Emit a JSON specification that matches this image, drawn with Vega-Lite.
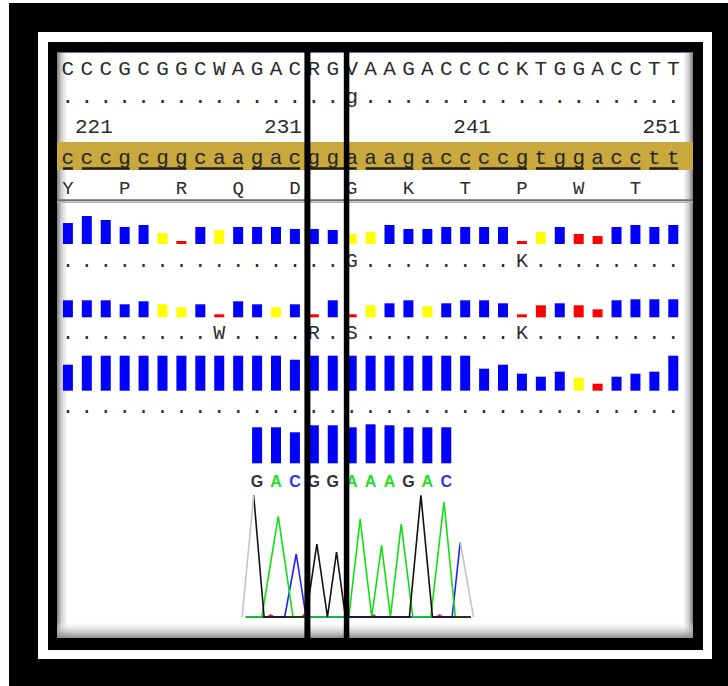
{
  "$schema": "https://vega.github.io/schema/vega-lite/v6.json",
  "width": 636,
  "height": 586,
  "autosize": {"type": "none"},
  "padding": {"left": 57, "top": 52, "right": 35, "bottom": 48},
  "background": "#ffffff",
  "config": {"view": {"stroke": null}},
  "datasets": {
    "bases": [
      {"pos": 219, "cons": "C", "ref": "c", "refmark": "."},
      {"pos": 220, "cons": "C", "ref": "c", "refmark": "."},
      {"pos": 221, "cons": "C", "ref": "c", "refmark": "."},
      {"pos": 222, "cons": "G", "ref": "g", "refmark": "."},
      {"pos": 223, "cons": "C", "ref": "c", "refmark": "."},
      {"pos": 224, "cons": "G", "ref": "g", "refmark": "."},
      {"pos": 225, "cons": "G", "ref": "g", "refmark": "."},
      {"pos": 226, "cons": "C", "ref": "c", "refmark": "."},
      {"pos": 227, "cons": "W", "ref": "a", "refmark": "."},
      {"pos": 228, "cons": "A", "ref": "a", "refmark": "."},
      {"pos": 229, "cons": "G", "ref": "g", "refmark": "."},
      {"pos": 230, "cons": "A", "ref": "a", "refmark": "."},
      {"pos": 231, "cons": "C", "ref": "c", "refmark": "."},
      {"pos": 232, "cons": "R", "ref": "g", "refmark": "."},
      {"pos": 233, "cons": "G", "ref": "g", "refmark": "."},
      {"pos": 234, "cons": "V", "ref": "a", "refmark": "g"},
      {"pos": 235, "cons": "A", "ref": "a", "refmark": "."},
      {"pos": 236, "cons": "A", "ref": "a", "refmark": "."},
      {"pos": 237, "cons": "G", "ref": "g", "refmark": "."},
      {"pos": 238, "cons": "A", "ref": "a", "refmark": "."},
      {"pos": 239, "cons": "C", "ref": "c", "refmark": "."},
      {"pos": 240, "cons": "C", "ref": "c", "refmark": "."},
      {"pos": 241, "cons": "C", "ref": "c", "refmark": "."},
      {"pos": 242, "cons": "C", "ref": "c", "refmark": "."},
      {"pos": 243, "cons": "K", "ref": "g", "refmark": "."},
      {"pos": 244, "cons": "T", "ref": "t", "refmark": "."},
      {"pos": 245, "cons": "G", "ref": "g", "refmark": "."},
      {"pos": 246, "cons": "G", "ref": "g", "refmark": "."},
      {"pos": 247, "cons": "A", "ref": "a", "refmark": "."},
      {"pos": 248, "cons": "C", "ref": "c", "refmark": "."},
      {"pos": 249, "cons": "C", "ref": "c", "refmark": "."},
      {"pos": 250, "cons": "T", "ref": "t", "refmark": "."},
      {"pos": 251, "cons": "T", "ref": "t", "refmark": "."}
    ],
    "ruler": [{"pos": 221}, {"pos": 231}, {"pos": 241}, {"pos": 251}],
    "codons": [
      {"start": 219, "end": 219, "aa": "Y"},
      {"start": 220, "end": 222, "aa": "P"},
      {"start": 223, "end": 225, "aa": "R"},
      {"start": 226, "end": 228, "aa": "Q"},
      {"start": 229, "end": 231, "aa": "D"},
      {"start": 232, "end": 234, "aa": "G"},
      {"start": 235, "end": 237, "aa": "K"},
      {"start": 238, "end": 240, "aa": "T"},
      {"start": 241, "end": 243, "aa": "P"},
      {"start": 244, "end": 246, "aa": "W"},
      {"start": 247, "end": 249, "aa": "T"},
      {"start": 250, "end": 251, "aa": ""}
    ],
    "reads": [
      {"read": 1, "pos": 219, "q": 21, "qc": "hi", "mark": "."},
      {"read": 1, "pos": 220, "q": 28, "qc": "hi", "mark": "."},
      {"read": 1, "pos": 221, "q": 24, "qc": "hi", "mark": "."},
      {"read": 1, "pos": 222, "q": 17, "qc": "hi", "mark": "."},
      {"read": 1, "pos": 223, "q": 19, "qc": "hi", "mark": "."},
      {"read": 1, "pos": 224, "q": 11, "qc": "mid", "mark": "."},
      {"read": 1, "pos": 225, "q": 3, "qc": "lo", "mark": "."},
      {"read": 1, "pos": 226, "q": 17, "qc": "hi", "mark": "."},
      {"read": 1, "pos": 227, "q": 14, "qc": "mid", "mark": "."},
      {"read": 1, "pos": 228, "q": 17, "qc": "hi", "mark": "."},
      {"read": 1, "pos": 229, "q": 17, "qc": "hi", "mark": "."},
      {"read": 1, "pos": 230, "q": 17, "qc": "hi", "mark": "."},
      {"read": 1, "pos": 231, "q": 15, "qc": "hi", "mark": "."},
      {"read": 1, "pos": 232, "q": 15, "qc": "hi", "mark": "."},
      {"read": 1, "pos": 233, "q": 14, "qc": "hi", "mark": "."},
      {"read": 1, "pos": 234, "q": 10, "qc": "mid", "mark": "G"},
      {"read": 1, "pos": 235, "q": 12, "qc": "mid", "mark": "."},
      {"read": 1, "pos": 236, "q": 19, "qc": "hi", "mark": "."},
      {"read": 1, "pos": 237, "q": 15, "qc": "hi", "mark": "."},
      {"read": 1, "pos": 238, "q": 15, "qc": "hi", "mark": "."},
      {"read": 1, "pos": 239, "q": 17, "qc": "hi", "mark": "."},
      {"read": 1, "pos": 240, "q": 17, "qc": "hi", "mark": "."},
      {"read": 1, "pos": 241, "q": 17, "qc": "hi", "mark": "."},
      {"read": 1, "pos": 242, "q": 17, "qc": "hi", "mark": "."},
      {"read": 1, "pos": 243, "q": 3, "qc": "lo", "mark": "K"},
      {"read": 1, "pos": 244, "q": 12, "qc": "mid", "mark": "."},
      {"read": 1, "pos": 245, "q": 17, "qc": "hi", "mark": "."},
      {"read": 1, "pos": 246, "q": 10, "qc": "lo", "mark": "."},
      {"read": 1, "pos": 247, "q": 8, "qc": "lo", "mark": "."},
      {"read": 1, "pos": 248, "q": 17, "qc": "hi", "mark": "."},
      {"read": 1, "pos": 249, "q": 19, "qc": "hi", "mark": "."},
      {"read": 1, "pos": 250, "q": 17, "qc": "hi", "mark": "."},
      {"read": 1, "pos": 251, "q": 19, "qc": "hi", "mark": "."},
      {"read": 2, "pos": 219, "q": 17, "qc": "hi", "mark": "."},
      {"read": 2, "pos": 220, "q": 17, "qc": "hi", "mark": "."},
      {"read": 2, "pos": 221, "q": 17, "qc": "hi", "mark": "."},
      {"read": 2, "pos": 222, "q": 13, "qc": "hi", "mark": "."},
      {"read": 2, "pos": 223, "q": 16, "qc": "hi", "mark": "."},
      {"read": 2, "pos": 224, "q": 13, "qc": "mid", "mark": "."},
      {"read": 2, "pos": 225, "q": 10, "qc": "mid", "mark": "."},
      {"read": 2, "pos": 226, "q": 13, "qc": "hi", "mark": "."},
      {"read": 2, "pos": 227, "q": 3, "qc": "lo", "mark": "W"},
      {"read": 2, "pos": 228, "q": 16, "qc": "hi", "mark": "."},
      {"read": 2, "pos": 229, "q": 13, "qc": "hi", "mark": "."},
      {"read": 2, "pos": 230, "q": 10, "qc": "mid", "mark": "."},
      {"read": 2, "pos": 231, "q": 13, "qc": "hi", "mark": "."},
      {"read": 2, "pos": 232, "q": 3, "qc": "lo", "mark": "R"},
      {"read": 2, "pos": 233, "q": 17, "qc": "hi", "mark": "."},
      {"read": 2, "pos": 234, "q": 3, "qc": "lo", "mark": "S"},
      {"read": 2, "pos": 235, "q": 12, "qc": "mid", "mark": "."},
      {"read": 2, "pos": 236, "q": 14, "qc": "hi", "mark": "."},
      {"read": 2, "pos": 237, "q": 17, "qc": "hi", "mark": "."},
      {"read": 2, "pos": 238, "q": 11, "qc": "mid", "mark": "."},
      {"read": 2, "pos": 239, "q": 14, "qc": "hi", "mark": "."},
      {"read": 2, "pos": 240, "q": 17, "qc": "hi", "mark": "."},
      {"read": 2, "pos": 241, "q": 17, "qc": "hi", "mark": "."},
      {"read": 2, "pos": 242, "q": 14, "qc": "hi", "mark": "."},
      {"read": 2, "pos": 243, "q": 3, "qc": "lo", "mark": "K"},
      {"read": 2, "pos": 244, "q": 12, "qc": "lo", "mark": "."},
      {"read": 2, "pos": 245, "q": 14, "qc": "hi", "mark": "."},
      {"read": 2, "pos": 246, "q": 12, "qc": "lo", "mark": "."},
      {"read": 2, "pos": 247, "q": 8, "qc": "lo", "mark": "."},
      {"read": 2, "pos": 248, "q": 17, "qc": "hi", "mark": "."},
      {"read": 2, "pos": 249, "q": 18, "qc": "hi", "mark": "."},
      {"read": 2, "pos": 250, "q": 18, "qc": "hi", "mark": "."},
      {"read": 2, "pos": 251, "q": 18, "qc": "hi", "mark": "."},
      {"read": 3, "pos": 219, "q": 26, "qc": "hi", "mark": "."},
      {"read": 3, "pos": 220, "q": 35, "qc": "hi", "mark": "."},
      {"read": 3, "pos": 221, "q": 35, "qc": "hi", "mark": "."},
      {"read": 3, "pos": 222, "q": 35, "qc": "hi", "mark": "."},
      {"read": 3, "pos": 223, "q": 35, "qc": "hi", "mark": "."},
      {"read": 3, "pos": 224, "q": 35, "qc": "hi", "mark": "."},
      {"read": 3, "pos": 225, "q": 35, "qc": "hi", "mark": "."},
      {"read": 3, "pos": 226, "q": 35, "qc": "hi", "mark": "."},
      {"read": 3, "pos": 227, "q": 35, "qc": "hi", "mark": "."},
      {"read": 3, "pos": 228, "q": 35, "qc": "hi", "mark": "."},
      {"read": 3, "pos": 229, "q": 35, "qc": "hi", "mark": "."},
      {"read": 3, "pos": 230, "q": 35, "qc": "hi", "mark": "."},
      {"read": 3, "pos": 231, "q": 31, "qc": "hi", "mark": "."},
      {"read": 3, "pos": 232, "q": 35, "qc": "hi", "mark": "."},
      {"read": 3, "pos": 233, "q": 35, "qc": "hi", "mark": "."},
      {"read": 3, "pos": 234, "q": 35, "qc": "hi", "mark": "."},
      {"read": 3, "pos": 235, "q": 35, "qc": "hi", "mark": "."},
      {"read": 3, "pos": 236, "q": 35, "qc": "hi", "mark": "."},
      {"read": 3, "pos": 237, "q": 35, "qc": "hi", "mark": "."},
      {"read": 3, "pos": 238, "q": 35, "qc": "hi", "mark": "."},
      {"read": 3, "pos": 239, "q": 35, "qc": "hi", "mark": "."},
      {"read": 3, "pos": 240, "q": 35, "qc": "hi", "mark": "."},
      {"read": 3, "pos": 241, "q": 22, "qc": "hi", "mark": "."},
      {"read": 3, "pos": 242, "q": 26, "qc": "hi", "mark": "."},
      {"read": 3, "pos": 243, "q": 17, "qc": "hi", "mark": "."},
      {"read": 3, "pos": 244, "q": 14, "qc": "hi", "mark": "."},
      {"read": 3, "pos": 245, "q": 19, "qc": "hi", "mark": "."},
      {"read": 3, "pos": 246, "q": 13, "qc": "mid", "mark": "."},
      {"read": 3, "pos": 247, "q": 7, "qc": "lo", "mark": "."},
      {"read": 3, "pos": 248, "q": 14, "qc": "hi", "mark": "."},
      {"read": 3, "pos": 249, "q": 17, "qc": "hi", "mark": "."},
      {"read": 3, "pos": 250, "q": 19, "qc": "hi", "mark": "."},
      {"read": 3, "pos": 251, "q": 35, "qc": "hi", "mark": "."}
    ],
    "calls": [
      {"pos": 229, "base": "G", "q": 36},
      {"pos": 230, "base": "A", "q": 36},
      {"pos": 231, "base": "C", "q": 31},
      {"pos": 232, "base": "G", "q": 38},
      {"pos": 233, "base": "G", "q": 38},
      {"pos": 234, "base": "A", "q": 36},
      {"pos": 235, "base": "A", "q": 39},
      {"pos": 236, "base": "A", "q": 38},
      {"pos": 237, "base": "G", "q": 36},
      {"pos": 238, "base": "A", "q": 36},
      {"pos": 239, "base": "C", "q": 36}
    ],
    "trace": [
      {"ch": "T", "pos": 228.40, "signal": 0},
      {"ch": "T", "pos": 229.55, "signal": 0},
      {"ch": "T", "pos": 229.72, "signal": 2},
      {"ch": "T", "pos": 229.90, "signal": 0},
      {"ch": "T", "pos": 231.35, "signal": 0},
      {"ch": "T", "pos": 231.50, "signal": 2.5},
      {"ch": "T", "pos": 231.65, "signal": 0},
      {"ch": "T", "pos": 235.00, "signal": 0},
      {"ch": "T", "pos": 235.15, "signal": 2},
      {"ch": "T", "pos": 235.30, "signal": 0},
      {"ch": "T", "pos": 238.50, "signal": 0},
      {"ch": "T", "pos": 238.65, "signal": 2},
      {"ch": "T", "pos": 238.80, "signal": 0},
      {"ch": "T", "pos": 240.30, "signal": 0},
      {"ch": "C", "pos": 228.40, "signal": 0},
      {"ch": "C", "pos": 230.46, "signal": 0},
      {"ch": "C", "pos": 231.07, "signal": 63},
      {"ch": "C", "pos": 231.59, "signal": 0},
      {"ch": "C", "pos": 239.31, "signal": 0},
      {"ch": "C", "pos": 239.74, "signal": 75},
      {"ch": "A", "pos": 228.40, "signal": 0},
      {"ch": "A", "pos": 229.25, "signal": 0},
      {"ch": "A", "pos": 230.12, "signal": 100.7},
      {"ch": "A", "pos": 230.90, "signal": 0},
      {"ch": "A", "pos": 233.85, "signal": 0},
      {"ch": "A", "pos": 234.45, "signal": 98},
      {"ch": "A", "pos": 235.06, "signal": 0},
      {"ch": "A", "pos": 235.58, "signal": 71.7},
      {"ch": "A", "pos": 236.05, "signal": 0},
      {"ch": "A", "pos": 236.62, "signal": 93},
      {"ch": "A", "pos": 237.23, "signal": 0},
      {"ch": "A", "pos": 238.18, "signal": 0},
      {"ch": "A", "pos": 238.88, "signal": 115},
      {"ch": "A", "pos": 239.48, "signal": 0},
      {"ch": "A", "pos": 240.30, "signal": 0},
      {"ch": "G", "pos": 228.82, "signal": 121.7},
      {"ch": "G", "pos": 229.37, "signal": 0},
      {"ch": "G", "pos": 231.59, "signal": 0},
      {"ch": "G", "pos": 232.16, "signal": 73},
      {"ch": "G", "pos": 232.72, "signal": 0},
      {"ch": "G", "pos": 233.20, "signal": 65},
      {"ch": "G", "pos": 233.67, "signal": 0},
      {"ch": "G", "pos": 237.05, "signal": 0},
      {"ch": "G", "pos": 237.66, "signal": 121.7},
      {"ch": "G", "pos": 238.27, "signal": 0},
      {"ch": "G", "pos": 240.30, "signal": 0}
    ],
    "trimmed": [
      {"seg": "left", "pos": 228.21, "signal": 0},
      {"seg": "left", "pos": 228.82, "signal": 121.7},
      {"seg": "right", "pos": 239.74, "signal": 75},
      {"seg": "right", "pos": 240.44, "signal": 0}
    ],
    "selection": [{"from": 231.66, "to": 233.73}]
  },
  "resolve": {"scale": {"y": "independent", "color": "independent"}},
  "layer": [
    {
      "description": "outer black surround",
      "data": {"values": [{}]},
      "mark": {"type": "rect", "color": "#000000"},
      "encoding": {"x": {"value": -48}, "x2": {"value": 671}, "y": {"value": -49}, "y2": {"value": 634}}
    },
    {
      "description": "white frame",
      "data": {"values": [{}]},
      "mark": {"type": "rect", "color": "#ffffff"},
      "encoding": {"x": {"value": -19}, "x2": {"value": 655}, "y": {"value": -20}, "y2": {"value": 607}}
    },
    {
      "description": "inner black frame",
      "data": {"values": [{}]},
      "mark": {"type": "rect", "color": "#000000"},
      "encoding": {"x": {"value": -9}, "x2": {"value": 646}, "y": {"value": -10}, "y2": {"value": 598}}
    },
    {
      "description": "panel with shaded side edges",
      "data": {"values": [{}]},
      "mark": {
        "type": "rect",
        "fill": {
          "gradient": "linear", "x1": 0, "y1": 0, "x2": 1, "y2": 0,
          "stops": [
            {"offset": 0, "color": "#7c7c7c"},
            {"offset": 0.007, "color": "#cfcfcf"},
            {"offset": 0.016, "color": "#ffffff"},
            {"offset": 0.985, "color": "#ffffff"},
            {"offset": 0.993, "color": "#cfcfcf"},
            {"offset": 1, "color": "#7c7c7c"}
          ]
        }
      },
      "encoding": {"x": {"value": 0}, "x2": {"value": 636}, "y": {"value": 0}, "y2": {"value": 586}}
    },
    {
      "description": "panel bottom shading",
      "data": {"values": [{}]},
      "mark": {
        "type": "rect",
        "fill": {
          "gradient": "linear", "x1": 0, "y1": 0, "x2": 0, "y2": 1,
          "stops": [
            {"offset": 0, "color": "rgba(255,255,255,0)"},
            {"offset": 0.5, "color": "rgba(200,200,200,0.6)"},
            {"offset": 1, "color": "#8a8a8a"}
          ]
        }
      },
      "encoding": {"x": {"value": 0}, "x2": {"value": 636}, "y": {"value": 569}, "y2": {"value": 586}}
    },
    {
      "description": "panel top edge",
      "data": {"values": [{}]},
      "mark": {"type": "rule", "color": "#6a6aac", "strokeWidth": 1},
      "encoding": {"x": {"value": 0}, "x2": {"value": 636}, "y": {"value": 0.5}}
    },
    {
      "description": "reference track band",
      "data": {"values": [{}]},
      "mark": {"type": "rect", "color": "#c9a93d"},
      "encoding": {"x": {"value": 0}, "x2": {"value": 636}, "y": {"value": 90}, "y2": {"value": 118}}
    },
    {
      "description": "separator under the translation",
      "data": {"values": [{}]},
      "mark": {"type": "rule", "color": "#6e6e6e", "strokeWidth": 2},
      "encoding": {"x": {"value": 0}, "x2": {"value": 636}, "y": {"value": 148.3}}
    },
    {
      "data": {"values": [{}]},
      "mark": {"type": "rule", "color": "#b4b4b4", "strokeWidth": 1.5},
      "encoding": {"x": {"value": 0}, "x2": {"value": 636}, "y": {"value": 150.3}}
    },
    {
      "description": "consensus sequence",
      "data": {"name": "bases"},
      "mark": {"type": "text", "font": "Liberation Mono", "fontSize": 21, "baseline": "alphabetic", "align": "center", "color": "#2b2b2b"},
      "encoding": {
        "x": {"field": "pos", "type": "quantitative", "scale": {"domain": [218.688, 251.778], "nice": false, "zero": false}, "axis": null},
        "y": {"datum": "consensus", "type": "nominal", "scale": {"range": [23, 23]}, "axis": null},
        "text": {"field": "cons"}
      }
    },
    {
      "description": "reference agreement marks",
      "data": {"name": "bases"},
      "mark": {"type": "text", "font": "Liberation Mono", "fontSize": 21, "baseline": "alphabetic", "align": "center", "color": "#2b2b2b"},
      "encoding": {
        "x": {"field": "pos", "type": "quantitative", "scale": {"domain": [218.688, 251.778], "nice": false, "zero": false}, "axis": null},
        "y": {"datum": "agreement", "type": "nominal", "scale": {"range": [51, 51]}, "axis": null},
        "text": {"field": "refmark"}
      }
    },
    {
      "description": "position ruler",
      "data": {"name": "ruler"},
      "mark": {"type": "text", "font": "Liberation Mono", "fontSize": 21, "baseline": "alphabetic", "align": "right", "dx": 7, "color": "#2b2b2b"},
      "encoding": {
        "x": {"field": "pos", "type": "quantitative", "scale": {"domain": [218.688, 251.778], "nice": false, "zero": false}, "axis": null},
        "y": {"datum": "ruler", "type": "nominal", "scale": {"range": [81, 81]}, "axis": null},
        "text": {"field": "pos", "type": "quantitative", "format": "d"}
      }
    },
    {
      "description": "reference sequence",
      "data": {"name": "bases"},
      "mark": {"type": "text", "font": "Liberation Mono", "fontSize": 21, "baseline": "alphabetic", "align": "center", "color": "#262626"},
      "encoding": {
        "x": {"field": "pos", "type": "quantitative", "scale": {"domain": [218.688, 251.778], "nice": false, "zero": false}, "axis": null},
        "y": {"datum": "reference", "type": "nominal", "scale": {"range": [112, 112]}, "axis": null},
        "text": {"field": "ref"}
      }
    },
    {
      "description": "codon underlines",
      "data": {"name": "codons"},
      "mark": {"type": "rule", "color": "#1c1c1c", "strokeWidth": 2.5, "xOffset": -5, "x2Offset": 5},
      "encoding": {
        "x": {"field": "start", "type": "quantitative", "scale": {"domain": [218.688, 251.778], "nice": false, "zero": false}, "axis": null},
        "x2": {"field": "end"},
        "y": {"datum": "codon", "type": "nominal", "scale": {"range": [116.5, 116.5]}, "axis": null}
      }
    },
    {
      "description": "translation",
      "data": {"name": "codons"},
      "mark": {"type": "text", "font": "Liberation Mono", "fontSize": 19, "baseline": "alphabetic", "align": "center", "color": "#2b2b2b"},
      "encoding": {
        "x": {"field": "end", "type": "quantitative", "scale": {"domain": [218.688, 251.778], "nice": false, "zero": false}, "axis": null},
        "y": {"datum": "protein", "type": "nominal", "scale": {"range": [142, 142]}, "axis": null},
        "text": {"field": "aa"}
      }
    },
    {
      "description": "read 1 quality",
      "data": {"name": "reads"},
      "transform": [{"filter": "datum.read == 1"}],
      "mark": {"type": "bar", "size": 10},
      "encoding": {
        "x": {"field": "pos", "type": "quantitative", "scale": {"domain": [218.688, 251.778], "nice": false, "zero": false}, "axis": null},
        "y": {"field": "q", "type": "quantitative", "stack": null, "scale": {"domain": [0, 40], "range": [192, 152], "nice": false}, "axis": null},
        "color": {"field": "qc", "type": "nominal", "scale": {"domain": ["hi", "mid", "lo"], "range": ["#0000ff", "#ffff00", "#ff0000"]}, "legend": null}
      }
    },
    {
      "description": "read 1 calls",
      "data": {"name": "reads"},
      "transform": [{"filter": "datum.read == 1"}],
      "mark": {"type": "text", "font": "Liberation Mono", "fontSize": 20, "baseline": "alphabetic", "align": "center", "color": "#2b2b2b"},
      "encoding": {
        "x": {"field": "pos", "type": "quantitative", "scale": {"domain": [218.688, 251.778], "nice": false, "zero": false}, "axis": null},
        "y": {"datum": "read 1", "type": "nominal", "scale": {"range": [215, 215]}, "axis": null},
        "text": {"field": "mark"}
      }
    },
    {
      "description": "read 2 quality",
      "data": {"name": "reads"},
      "transform": [{"filter": "datum.read == 2"}],
      "mark": {"type": "bar", "size": 10},
      "encoding": {
        "x": {"field": "pos", "type": "quantitative", "scale": {"domain": [218.688, 251.778], "nice": false, "zero": false}, "axis": null},
        "y": {"field": "q", "type": "quantitative", "stack": null, "scale": {"domain": [0, 40], "range": [265.3, 225.3], "nice": false}, "axis": null},
        "color": {"field": "qc", "type": "nominal", "scale": {"domain": ["hi", "mid", "lo"], "range": ["#0000ff", "#ffff00", "#ff0000"]}, "legend": null}
      }
    },
    {
      "description": "read 2 calls",
      "data": {"name": "reads"},
      "transform": [{"filter": "datum.read == 2"}],
      "mark": {"type": "text", "font": "Liberation Mono", "fontSize": 20, "baseline": "alphabetic", "align": "center", "color": "#2b2b2b"},
      "encoding": {
        "x": {"field": "pos", "type": "quantitative", "scale": {"domain": [218.688, 251.778], "nice": false, "zero": false}, "axis": null},
        "y": {"datum": "read 2", "type": "nominal", "scale": {"range": [287, 287]}, "axis": null},
        "text": {"field": "mark"}
      }
    },
    {
      "description": "read 3 quality",
      "data": {"name": "reads"},
      "transform": [{"filter": "datum.read == 3"}],
      "mark": {"type": "bar", "size": 10},
      "encoding": {
        "x": {"field": "pos", "type": "quantitative", "scale": {"domain": [218.688, 251.778], "nice": false, "zero": false}, "axis": null},
        "y": {"field": "q", "type": "quantitative", "stack": null, "scale": {"domain": [0, 40], "range": [338.7, 298.7], "nice": false}, "axis": null},
        "color": {"field": "qc", "type": "nominal", "scale": {"domain": ["hi", "mid", "lo"], "range": ["#0000ff", "#ffff00", "#ff0000"]}, "legend": null}
      }
    },
    {
      "description": "read 3 calls",
      "data": {"name": "reads"},
      "transform": [{"filter": "datum.read == 3"}],
      "mark": {"type": "text", "font": "Liberation Mono", "fontSize": 20, "baseline": "alphabetic", "align": "center", "color": "#2b2b2b"},
      "encoding": {
        "x": {"field": "pos", "type": "quantitative", "scale": {"domain": [218.688, 251.778], "nice": false, "zero": false}, "axis": null},
        "y": {"datum": "read 3", "type": "nominal", "scale": {"range": [361, 361]}, "axis": null},
        "text": {"field": "mark"}
      }
    },
    {
      "description": "trace base-call quality",
      "data": {"name": "calls"},
      "mark": {"type": "bar", "size": 10, "color": "#0000ff"},
      "encoding": {
        "x": {"field": "pos", "type": "quantitative", "scale": {"domain": [218.688, 251.778], "nice": false, "zero": false}, "axis": null},
        "y": {"field": "q", "type": "quantitative", "stack": null, "scale": {"domain": [0, 40], "range": [411.3, 371.3], "nice": false}, "axis": null}
      }
    },
    {
      "description": "trace base calls",
      "data": {"name": "calls"},
      "mark": {"type": "text", "font": "Liberation Sans", "fontSize": 16, "fontWeight": "bold", "baseline": "alphabetic", "align": "center"},
      "encoding": {
        "x": {"field": "pos", "type": "quantitative", "scale": {"domain": [218.688, 251.778], "nice": false, "zero": false}, "axis": null},
        "y": {"datum": "calls", "type": "nominal", "scale": {"range": [434.7, 434.7]}, "axis": null},
        "text": {"field": "base"},
        "color": {"field": "base", "type": "nominal", "scale": {"domain": ["G", "A", "C", "T"], "range": ["#333333", "#22dd22", "#3333ee", "#ee2222"]}, "legend": null}
      }
    },
    {
      "description": "chromatogram channels",
      "data": {"name": "trace"},
      "mark": {"type": "line", "strokeWidth": 1.6, "interpolate": "linear"},
      "encoding": {
        "x": {"field": "pos", "type": "quantitative", "scale": {"domain": [218.688, 251.778], "nice": false, "zero": false}, "axis": null},
        "y": {"field": "signal", "type": "quantitative", "scale": {"domain": [0, 130], "range": [565, 435], "nice": false}, "axis": null},
        "color": {"field": "ch", "type": "nominal", "sort": ["T", "C", "A", "G"], "scale": {"domain": ["T", "C", "A", "G"], "range": ["#ff2020", "#2020ff", "#10e010", "#111111"]}, "legend": null},
        "order": {"field": "pos", "type": "quantitative"}
      }
    },
    {
      "description": "chromatogram outside the clear range",
      "data": {"name": "trimmed"},
      "mark": {"type": "line", "strokeWidth": 1.6, "color": "#c4c4c4"},
      "encoding": {
        "x": {"field": "pos", "type": "quantitative", "scale": {"domain": [218.688, 251.778], "nice": false, "zero": false}, "axis": null},
        "y": {"field": "signal", "type": "quantitative", "scale": {"domain": [0, 130], "range": [565, 435], "nice": false}, "axis": null},
        "detail": {"field": "seg"}
      }
    },
    {
      "description": "selected columns, left edge",
      "data": {"name": "selection"},
      "mark": {"type": "rule", "color": "#000000", "strokeWidth": 6},
      "encoding": {
        "x": {"field": "from", "type": "quantitative", "scale": {"domain": [218.688, 251.778], "nice": false, "zero": false}, "axis": null}
      }
    },
    {
      "description": "selected columns, right edge",
      "data": {"name": "selection"},
      "mark": {"type": "rule", "color": "#000000", "strokeWidth": 5.5},
      "encoding": {
        "x": {"field": "to", "type": "quantitative", "scale": {"domain": [218.688, 251.778], "nice": false, "zero": false}, "axis": null}
      }
    }
  ]
}
